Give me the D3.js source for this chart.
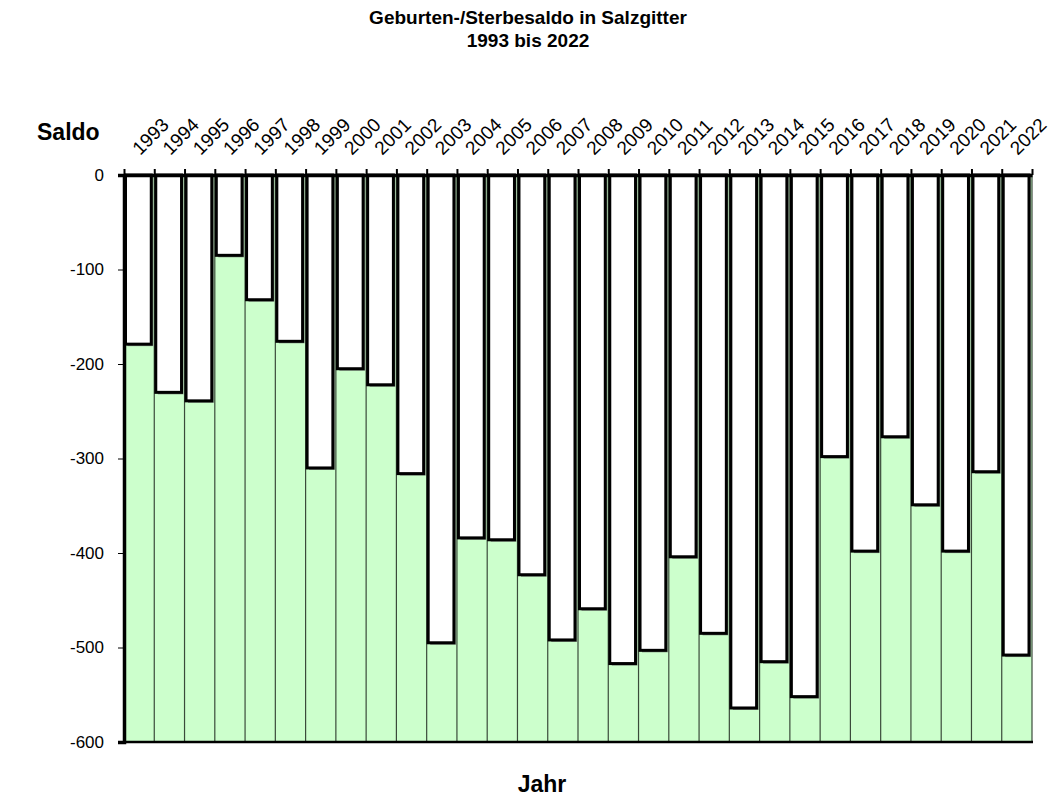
<!DOCTYPE html>
<html>
<head>
<meta charset="utf-8">
<script src="https://cdn.jsdelivr.net/npm/d3@7"></script>
<style>
  body { margin: 0; background: #fff; }
  svg { font-family: "Liberation Sans", Arial, sans-serif; }
</style>
</head>
<body>
<svg id="chart"></svg>
<script>
// Jahre und Saldo (Geburten minus Sterbefaelle)
const years = ["1993","1994","1995","1996","1997","1998","1999","2000","2001","2002",
  "2003","2004","2005","2006","2007","2008","2009","2010","2011","2012",
  "2013","2014","2015","2016","2017","2018","2019","2020","2021","2022"];
const saldo = [-179,-230,-239,-85,-132,-176,-310,-205,-222,-316,
  -495,-384,-386,-423,-492,-459,-517,-503,-404,-485,
  -564,-515,-552,-298,-398,-277,-349,-398,-314,-508];
const yTicks = [0,-100,-200,-300,-400,-500,-600];
const titleLines = ["Geburten-/Sterbesaldo in Salzgitter", "1993 bis 2022"];

const W = 1057, H = 796;
const plot = { left: 124, right: 1032, top: 175, bottom: 742 };

const svg = d3.select("#chart").attr("width", W).attr("height", H);

const x = d3.scaleBand().domain(years).range([plot.left, plot.right]);
const y = d3.scaleLinear().domain([-600, 0]).range([plot.bottom, plot.top]);
// index scale for the category boundaries
const xb = d3.scaleLinear().domain([0, years.length]).range([plot.left, plot.right]);

const data = years.map((yr, i) => ({ year: yr, value: saldo[i] }));
const bw = x.bandwidth();

// green background of the plot area
svg.append("rect")
  .attr("x", plot.left).attr("y", plot.top)
  .attr("width", plot.right - plot.left).attr("height", plot.bottom - plot.top)
  .attr("fill", "#ccffcc");

// thin separators between the categories
svg.append("g").selectAll("line")
  .data(d3.range(1, years.length + 1))
  .join("line")
  .attr("x1", d => xb(d)).attr("x2", d => xb(d))
  .attr("y1", plot.top).attr("y2", plot.bottom)
  .attr("stroke", "#3a4a3a").attr("stroke-width", 1.2);

// shadows of the bars
svg.append("g").selectAll("rect")
  .data(data)
  .join("rect")
  .attr("x", d => x(d.year) + 3.5)
  .attr("y", plot.top + 2)
  .attr("width", bw - 4.5)
  .attr("height", d => y(d.value) - plot.top)
  .attr("fill", "#7f8f7f");

// white bars hanging from zero
svg.append("g").selectAll("rect")
  .data(data)
  .join("rect")
  .attr("x", d => x(d.year) + 1.5)
  .attr("y", plot.top)
  .attr("width", bw - 4.5)
  .attr("height", d => y(d.value) - plot.top)
  .attr("fill", "#fff")
  .attr("stroke", "#000")
  .attr("stroke-width", 3);

// bottom line
svg.append("line")
  .attr("x1", plot.left).attr("x2", plot.right + 1)
  .attr("y1", plot.bottom).attr("y2", plot.bottom)
  .attr("stroke", "#000").attr("stroke-width", 2.5);

// y axis
const yAxis = svg.append("g")
  .attr("transform", `translate(${plot.left},0)`)
  .call(d3.axisLeft(y).tickValues(yTicks).tickSize(6).tickPadding(14).tickFormat(d => String(d)));
yAxis.select(".domain").attr("stroke-width", 3.5);
yAxis.selectAll(".tick line").attr("stroke-width", 1);
yAxis.selectAll(".tick text").attr("font-size", 17).attr("fill", "#000")
  .attr("font-family", "Liberation Sans, Arial, sans-serif");

// top zero line with ticks at the category boundaries
const topAxis = svg.append("g")
  .attr("transform", `translate(0,${plot.top})`)
  .call(d3.axisTop(xb).tickValues(d3.range(0, years.length + 1)).tickSize(6).tickSizeOuter(0).tickFormat(""));
topAxis.select(".domain").attr("stroke-width", 3.5);
topAxis.selectAll(".tick line").attr("stroke-width", 2);

// year labels, rotated
svg.append("g").selectAll("text")
  .data(years)
  .join("text")
  .attr("transform", d => `translate(${x(d) + bw / 2 + 1},${plot.top - 19}) rotate(-45)`)
  .attr("font-size", 19)
  .attr("text-anchor", "start")
  .text(d => d);

// titles
svg.append("text")
  .attr("x", 528).attr("y", 24)
  .attr("text-anchor", "middle").attr("font-size", 19).attr("font-weight", "bold")
  .selectAll("tspan")
  .data(titleLines)
  .join("tspan")
  .attr("x", 528)
  .attr("dy", (d, i) => i === 0 ? 0 : 23)
  .text(d => d);

svg.append("text")
  .attr("x", 37).attr("y", 140)
  .attr("font-size", 23).attr("font-weight", "bold")
  .text("Saldo");

svg.append("text")
  .attr("x", 542).attr("y", 792)
  .attr("text-anchor", "middle")
  .attr("font-size", 23).attr("font-weight", "bold")
  .text("Jahr");
</script>
</body>
</html>
